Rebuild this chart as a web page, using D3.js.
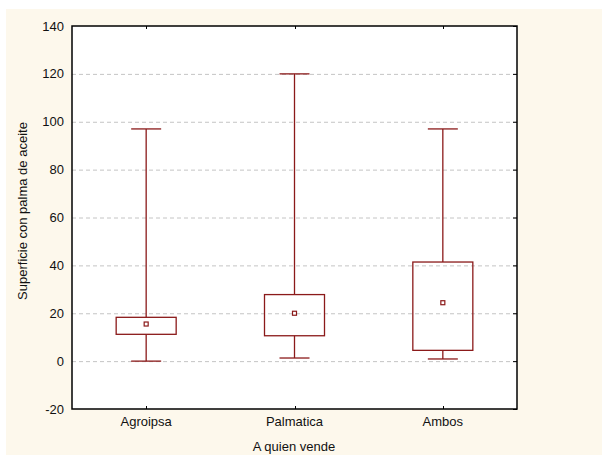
<!DOCTYPE html>
<html lang="es">
<head>
    <meta charset="UTF-8">
    <title>Superficie con palma de aceite</title>
    <script src="https://d3js.org/d3.v7.min.js"></script>
    <style>
        body { margin: 0; background: #fff; }
        svg { display: block; }
        text { font-family: Arial, "Liberation Sans", sans-serif; fill: #111; }
    </style>
</head>
<body>
    <svg id="vis" width="602" height="455"></svg>
    <script>
        // data
        const categories = ["Agroipsa", "Palmatica", "Ambos"];
        const whiskerLow = [0, 1.3, 0.9];
        const boxLow = [11.2, 10.6, 4.5];
        const means = [15.5, 20, 24.4];
        const boxHigh = [18.3, 27.8, 41.4];
        const whiskerHigh = [97, 120, 97];
        const yTicks = [-20, 0, 20, 40, 60, 80, 100, 120, 140];

        const rows = categories.map((c, i) => ({
            cat: c, lo: whiskerLow[i], q1: boxLow[i], mean: means[i], q3: boxHigh[i], hi: whiskerHigh[i]
        }));

        const svg = d3.select("#vis");
        const plotL = 72, plotR = 517, plotT = 26, plotB = 409;
        const red = "#8b1a1a";

        svg.append("rect").attr("x", 6).attr("y", 9).attr("width", 596).attr("height", 446)
            .attr("fill", "#fdf8ec");
        svg.append("rect").attr("x", plotL).attr("y", plotT)
            .attr("width", plotR - plotL).attr("height", plotB - plotT).attr("fill", "#fff");

        const y = d3.scaleLinear().domain([-20, 140]).range([plotB, plotT]);
        const x = d3.scaleBand().domain(categories).range([plotL, plotR]);

        // gridlines
        svg.append("g").selectAll("line")
            .data(yTicks.filter(t => t > -20 && t < 140))
            .join("line")
            .attr("x1", plotL).attr("x2", plotR)
            .attr("y1", d => y(d) + 0.5).attr("y2", d => y(d) + 0.5)
            .attr("stroke", "#c4c4c4").attr("stroke-dasharray", "4,3");

        // y axis labels
        svg.append("g").selectAll("text")
            .data(yTicks)
            .join("text")
            .attr("x", 64).attr("y", d => y(d))
            .attr("dy", "0.35em")
            .attr("text-anchor", "end")
            .attr("font-size", 13)
            .text(d => d);

        // right ticks (inward)
        svg.append("g").selectAll("line")
            .data(yTicks)
            .join("line")
            .attr("x1", plotR - 4).attr("x2", plotR)
            .attr("y1", d => y(d) + 0.5).attr("y2", d => y(d) + 0.5)
            .attr("stroke", "#000");

        // top/bottom ticks at categories
        const cx = d => x(d) + x.bandwidth() / 2;
        svg.append("g").selectAll("line")
            .data(categories)
            .join("line")
            .attr("x1", d => Math.round(cx(d)) + 0.5).attr("x2", d => Math.round(cx(d)) + 0.5)
            .attr("y1", plotT).attr("y2", plotT + 3)
            .attr("stroke", "#000");
        svg.append("g").selectAll("line")
            .data(categories)
            .join("line")
            .attr("x1", d => Math.round(cx(d)) + 0.5).attr("x2", d => Math.round(cx(d)) + 0.5)
            .attr("y1", plotB - 3).attr("y2", plotB)
            .attr("stroke", "#000");

        // frame
        svg.append("rect").attr("x", plotL).attr("y", plotT)
            .attr("width", plotR - plotL).attr("height", plotB - plotT)
            .attr("fill", "none").attr("stroke", "#000").attr("stroke-width", 1.5);

        // category labels
        svg.append("g").selectAll("text")
            .data(categories)
            .join("text")
            .attr("x", d => cx(d)).attr("y", 426)
            .attr("text-anchor", "middle")
            .attr("font-size", 13)
            .text(d => d);

        // axis titles
        svg.append("text")
            .attr("x", 294).attr("y", 451)
            .attr("text-anchor", "middle")
            .attr("font-size", 13)
            .text("A quien vende");
        svg.append("text")
            .attr("transform", "translate(27,211) rotate(-90)")
            .attr("text-anchor", "middle")
            .attr("font-size", 13)
            .text("Superficie con palma de aceite");

        // boxes
        const g = svg.append("g").selectAll("g")
            .data(rows)
            .join("g");
        const boxW = 60, capW = 30;
        g.append("line")
            .attr("x1", d => cx(d.cat)).attr("x2", d => cx(d.cat))
            .attr("y1", d => y(d.hi)).attr("y2", d => y(d.q3))
            .attr("stroke", red).attr("stroke-width", 1.3);
        g.append("line")
            .attr("x1", d => cx(d.cat)).attr("x2", d => cx(d.cat))
            .attr("y1", d => y(d.q1)).attr("y2", d => y(d.lo))
            .attr("stroke", red).attr("stroke-width", 1.3);
        g.append("line")
            .attr("x1", d => cx(d.cat) - capW / 2).attr("x2", d => cx(d.cat) + capW / 2)
            .attr("y1", d => y(d.hi)).attr("y2", d => y(d.hi))
            .attr("stroke", red).attr("stroke-width", 1.3);
        g.append("line")
            .attr("x1", d => cx(d.cat) - capW / 2).attr("x2", d => cx(d.cat) + capW / 2)
            .attr("y1", d => y(d.lo)).attr("y2", d => y(d.lo))
            .attr("stroke", red).attr("stroke-width", 1.3);
        g.append("rect")
            .attr("x", d => cx(d.cat) - boxW / 2).attr("width", boxW)
            .attr("y", d => y(d.q3)).attr("height", d => y(d.q1) - y(d.q3))
            .attr("fill", "none").attr("stroke", red).attr("stroke-width", 1.3);
        g.append("rect")
            .attr("x", d => cx(d.cat) - 2).attr("width", 4)
            .attr("y", d => y(d.mean) - 2).attr("height", 4)
            .attr("fill", "#fff").attr("stroke", red).attr("stroke-width", 1.2);
    </script>
</body>
</html>
